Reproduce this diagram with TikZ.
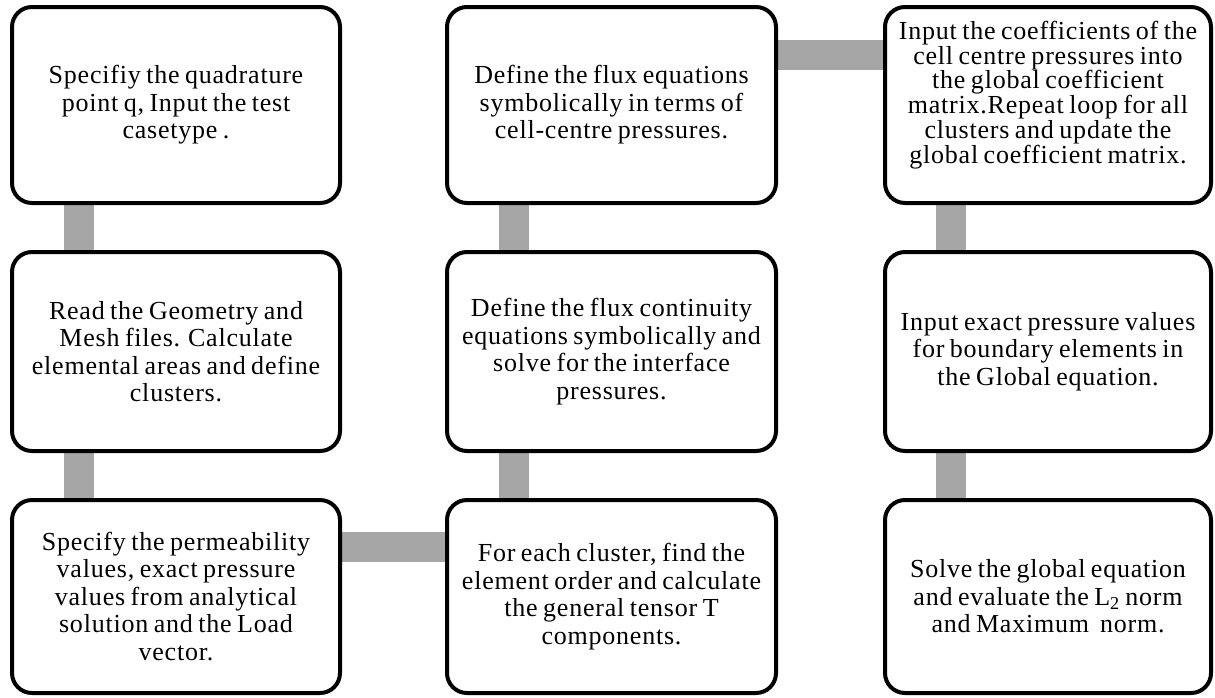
\documentclass[tikz,border=0pt]{standalone}
\usepackage{fontspec}
\setmainfont{Liberation Serif}[LetterSpace=3,WordSpace=0.75]
\usetikzlibrary{backgrounds}
\definecolor{barcol}{RGB}{166,166,166}
\tikzset{
  stepbox/.style={draw=black, line width=4pt, rounded corners=20pt, fill=white,
    rectangle, align=center, inner sep=0pt,
    font=\fontsize{26}{27.5}\selectfont},
  bar/.style={draw=barcol, line width=30pt}
}
\begin{document}
\begin{tikzpicture}[x=1pt,y=-1pt]
\useasboundingbox (0,0) rectangle (1215,697);
% column 1
\node[stepbox, minimum width=328pt, minimum height=196pt] (n1) at (176,105)
  {Specifiy the quadrature\\ point q, Input the test\\ casetype .};
\node[stepbox, minimum width=328pt, minimum height=199pt] (n2) at (176,351.5)
  {Read the Geometry and\\ Mesh files. Calculate\\ elemental areas and define\\ clusters.};
\node[stepbox, minimum width=328pt, minimum height=193pt] (n3) at (176,596.5)
  {Specify the permeability\\ values, exact pressure\\ values from analytical\\ solution and the Load\\ vector.};
% column 2
\node[stepbox, minimum width=329pt, minimum height=193pt] (n4) at (611.5,596.5)
  {For each cluster, find the\\ element order and calculate\\ the general tensor T\\ components.};
\node[stepbox, minimum width=329pt, minimum height=199pt] (n5) at (611.5,351.5)
  {Define the flux continuity\\ equations symbolically and\\ solve for the interface\\ pressures.};
\node[stepbox, minimum width=329pt, minimum height=196pt] (n6) at (611.5,105)
  {Define the flux equations\\ symbolically in terms of\\ cell-centre pressures.};
% column 3
\node[stepbox, minimum width=326pt, minimum height=196pt, font=\fontsize{26}{23.3}\selectfont] (n7) at (1048,105) {};
\node[font=\fontsize{26}{23.3}\selectfont, align=center, inner sep=0pt] (t7) at ([yshift=10pt]n7.center)
  {Input the coefficients of the\\ cell centre pressures into\\ the global coefficient\\ matrix.Repeat loop for all\\ clusters and update the\\ global coefficient matrix.};
\node[stepbox, minimum width=326pt, minimum height=199pt] (n8) at (1048,351.5)
  {Input exact pressure values\\ for boundary elements in\\ the Global equation.};
\node[stepbox, minimum width=326pt, minimum height=193pt] (n9) at (1048,596.5)
  {Solve the global equation\\ and evaluate the L\textsubscript{2} norm\\ and Maximum\ \ norm.};
% connectors
\begin{scope}[on background layer]
\draw[bar] ([xshift=-97pt]n1.south) -- ([xshift=-97pt]n2.north);
\draw[bar] ([xshift=-97pt]n2.south) -- ([xshift=-97pt]n3.north);
\draw[bar] ([yshift=49.5pt]n3.east) -- ([yshift=49.5pt]n4.west);
\draw[bar] ([xshift=-97.5pt]n4.north) -- ([xshift=-97.5pt]n5.south);
\draw[bar] ([xshift=-97.5pt]n5.north) -- ([xshift=-97.5pt]n6.south);
\draw[bar] ([yshift=50.5pt]n6.east) -- ([yshift=50.5pt]n7.west);
\draw[bar] ([xshift=-97pt]n7.south) -- ([xshift=-97pt]n8.north);
\draw[bar] ([xshift=-97pt]n8.south) -- ([xshift=-97pt]n9.north);
\end{scope}
\end{tikzpicture}
\end{document}
